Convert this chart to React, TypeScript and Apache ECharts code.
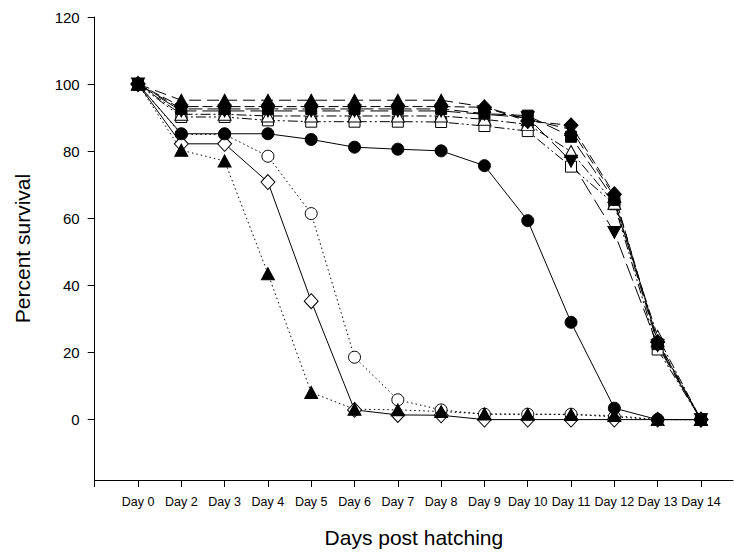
import React, { useEffect, useRef } from "react";
import * as echarts from "echarts";

const days = ["Day 0", "Day 2", "Day 3", "Day 4", "Day 5", "Day 6", "Day 7", "Day 8", "Day 9", "Day 10", "Day 11", "Day 12", "Day 13", "Day 14"];
const yTicks = [0, 20, 40, 60, 80, 100, 120];
const xTicks = [-1, 0, 1, 2, 3, 4, 5, 6, 7, 8, 9, 10, 11, 12, 13];

const filledCircle = [100, 85.2, 85.2, 85.2, 83.5, 81.2, 80.6, 80.1, 75.7, 59.3, 29.0, 3.4, 0, 0];
const openCircle = [100, 85, 85, 78.5, 61.4, 18.6, 5.9, 2.9, 1.6, 1.6, 1.6, 0.8, 0, 0];
const filledTriUp = [100, 80.3, 77.1, 43.5, 8.1, 3.1, 2.9, 2.4, 1.7, 1.6, 1.5, 1.2, 0, 0];
const openDiamond = [100, 82.2, 82.2, 70.8, 35.3, 2.9, 1.4, 1.3, 0, 0, 0, 0, 0, 0];
const filledTriDown = [100, 92, 92, 92, 92, 92, 92, 92, 91, 90, 77, 55.8, 22, 0];
const openTriUp = [100, 91, 91, 90.5, 90.5, 90.5, 90.5, 90.5, 89.5, 88, 79.9, 64.5, 24.8, 0];
const filledSquare = [100, 92.6, 92.6, 92.6, 92.6, 92.6, 92.6, 92.6, 91.2, 90.6, 84.3, 65.5, 22.5, 0];
const openSquare = [100, 90.2, 90.2, 89.2, 88.8, 88.8, 88.8, 88.7, 87.5, 86, 75.4, 64.2, 20.9, 0];
const filledDiamond = [100, 93.3, 93.3, 93.3, 93.3, 93.3, 93.3, 93.3, 93.1, 89, 87.7, 67.2, 23.1, 0];
const filledTriUpTop = [100, 95.2, 95.2, 95.2, 95.2, 95.2, 95.2, 95.2, 93.2, 89.5, 86.5, 66.5, 23.5, 0];

const FONT = "'Liberation Sans', Arial, sans-serif";

function mk(name: string, values: number[], symbol: string, size: any, filled: boolean, dash: any, rotate = 0) {
  return {
    name,
    type: "line",
    data: values.map((v, i) => [i, v]),
    symbol,
    symbolSize: size,
    symbolRotate: rotate,
    showAllSymbol: true,
    lineStyle: { color: "#000", width: 1, type: dash },
    itemStyle: { color: filled ? "#000" : "#fff", borderColor: "#000", borderWidth: 1 },
    emphasis: { disabled: true },
  };
}

export default function App() {
  const ref = useRef<HTMLDivElement>(null);
  useEffect(() => {
    const chart = echarts.init(ref.current!, null, { renderer: "svg" });
    chart.setOption({
      animation: false,
      backgroundColor: "#fff",
      grid: { left: 94.7, right: 1, top: 17, bottom: 68, containLabel: false },
      xAxis: {
        type: "value",
        min: -1,
        max: 13.74,
        name: "Days post hatching",
        nameLocation: "middle",
        nameGap: 47,
        nameTextStyle: { fontFamily: FONT, fontSize: 21, color: "#000" },
        axisLine: { onZero: false, lineStyle: { color: "#000", width: 1 } },
        axisTick: { customValues: xTicks, length: 7, inside: false, lineStyle: { color: "#000" } },
        axisLabel: {
          customValues: days.map((_, i) => i),
          formatter: (v: number) => days[Math.round(v)] ?? "",
          fontFamily: FONT,
          fontSize: 12.5,
          color: "#000",
          margin: 15,
        },
        splitLine: { show: false },
      },
      yAxis: {
        type: "value",
        min: -18,
        max: 120,
        name: "Percent survival",
        nameLocation: "middle",
        nameRotate: 90,
        nameGap: 62,
        nameTextStyle: { fontFamily: FONT, fontSize: 21, color: "#000" },
        axisLine: { show: true, onZero: false, lineStyle: { color: "#000", width: 1 } },
        axisTick: { show: true, customValues: yTicks, length: 7, inside: false, lineStyle: { color: "#000" } },
        axisLabel: { customValues: yTicks, fontFamily: FONT, fontSize: 15, color: "#000", margin: 15 },
        splitLine: { show: false },
      },
      series: [
        mk("sq-open", openSquare, "rect", 11, false, [10, 3, 2, 3, 2, 3]),
        mk("tri-open", openTriUp, "triangle", [13, 12], false, [10, 3, 2, 3]),
        mk("tri-down", filledTriDown, "triangle", [13, 12], true, [18, 6], 180),
        mk("dia-filled", filledDiamond, "diamond", [14, 15], true, [10, 4]),
        mk("sq-filled", filledSquare, "rect", 11, true, [14, 5]),
        mk("tri-top", filledTriUpTop, "triangle", [13, 12], true, [12, 6]),
        mk("circle-open", openCircle, "circle", 12, false, [1.5, 3]),
        mk("dia-open", openDiamond, "diamond", [14, 15], false, "solid"),
        mk("tri-filled", filledTriUp, "triangle", [13, 12], true, [1.5, 3]),
        mk("circle-filled", filledCircle, "circle", 12, true, "solid"),
      ],
    });
    return () => chart.dispose();
  }, []);
  return <div ref={ref} style={{ position: "fixed", left: 0, top: 0, width: 734, height: 553 }} />;
}
